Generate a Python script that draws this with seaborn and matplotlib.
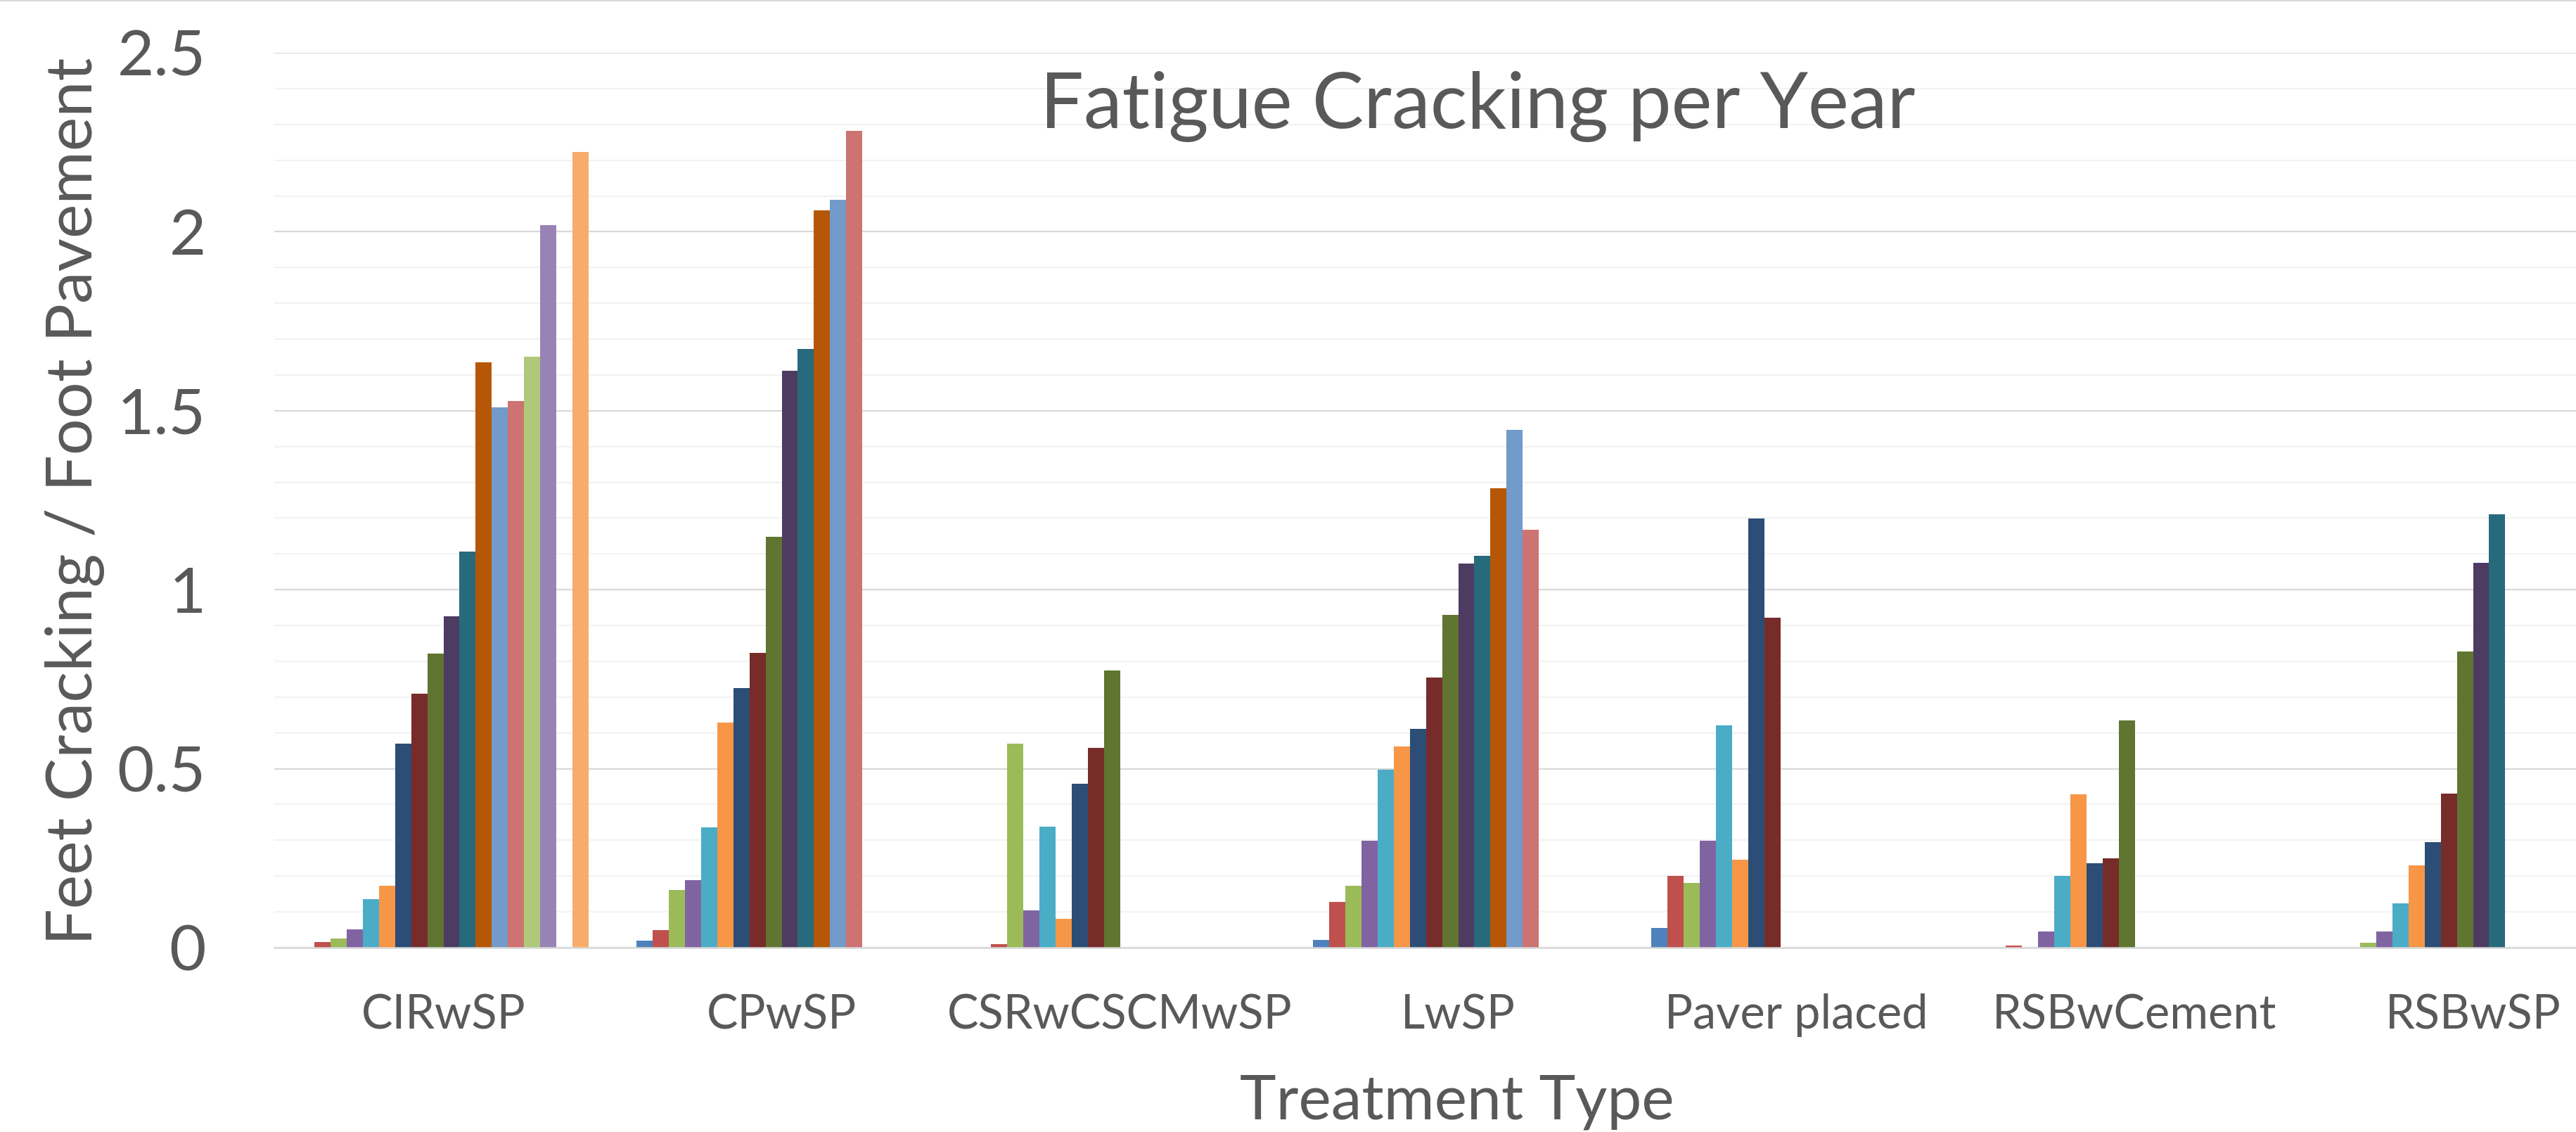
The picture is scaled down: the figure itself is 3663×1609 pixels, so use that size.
import pandas as pd
import numpy as np
import matplotlib
matplotlib.use("Agg")
import matplotlib.pyplot as plt
import seaborn as sns
from matplotlib.ticker import MultipleLocator
from matplotlib.lines import Line2D

# categories on the x axis
treatments = ["CIRwSP", "CPwSP", "CSRwCSCMwSP", "LwSP", "Paver placed", "RSBwCement", "RSBwSP"]

# 18 series per treatment (0 = no bar)
cirwsp = [0, 0.015, 0.025, 0.051, 0.136, 0.172, 0.569, 0.709, 0.821, 0.926, 1.107, 1.635,
          1.510, 1.527, 1.651, 2.019, 0, 2.223]
cpwsp = [0.020, 0.049, 0.161, 0.189, 0.337, 0.628, 0.725, 0.824, 1.148, 1.611, 1.672, 2.060,
         2.090, 2.281, 0, 0, 0, 0]
csrwcscmwsp = [0, 0.009, 0.570, 0.104, 0.338, 0.080, 0.457, 0.558, 0.774, 0, 0, 0,
               0, 0, 0, 0, 0, 0]
lwsp = [0.022, 0.127, 0.172, 0.299, 0.498, 0.563, 0.612, 0.755, 0.930, 1.073, 1.095, 1.283,
        1.447, 1.167, 0, 0, 0, 0]
paver = [0.055, 0.201, 0.180, 0.299, 0.621, 0.246, 1.198, 0.921, 0, 0, 0, 0,
         0, 0, 0, 0, 0, 0]
rsbwcement = [0, 0.005, 0, 0.045, 0.201, 0.428, 0.235, 0.250, 0.635, 0, 0, 0,
              0, 0, 0, 0, 0, 0]
rsbwsp = [0, 0, 0.013, 0.045, 0.124, 0.230, 0.294, 0.431, 0.828, 1.076, 1.210, 0,
          0, 0, 0, 0, 0, 0]

y_ticks = [0, 0.5, 1, 1.5, 2, 2.5]
y_tick_labels = ["0", "0.5", "1", "1.5", "2", "2.5"]

series = [f"Series {i + 1}" for i in range(18)]
colors = ["#4F81BD", "#C0504D", "#9BBB59", "#8064A2", "#4BACC6", "#F79646",
          "#2C4D75", "#772C2A", "#5F7530", "#4D3B62", "#276A7C", "#B65708",
          "#729ACA", "#CD7371", "#AFC97A", "#9983B5", "#6FBDD1", "#F9AB6B"]

all_vals = [cirwsp, cpwsp, csrwcscmwsp, lwsp, paver, rsbwcement, rsbwsp]
rows = []
for t, vals in zip(treatments, all_vals):
    for s, v in zip(series, vals):
        rows.append({"Treatment": t, "Series": s, "Value": v})
df = pd.DataFrame(rows)

sns.set_theme(style="white")
plt.rcParams["font.family"] = ["Lato", "DejaVu Sans"]
text_color = "#595959"

W, H = 3663, 1609
fig = plt.figure(figsize=(W / 100, H / 100), dpi=100)
ax = fig.add_axes([390 / W, (H - 1347) / H, 3367 / W, (1347 - 75) / H])

sns.barplot(data=df, x="Treatment", y="Value", hue="Series", order=treatments,
            hue_order=series, palette=colors, saturation=1, width=0.857,
            linewidth=0, legend=False, ax=ax)

ax.set_xlim(-0.5, 6.5)
ax.set_ylim(0, 2.5)
ax.set_yticks(y_ticks)
ax.set_yticklabels(y_tick_labels)
ax.yaxis.set_minor_locator(MultipleLocator(0.1))
ax.set_axisbelow(True)
ax.grid(which="minor", axis="y", color="#F2F2F2", lw=1.5)
ax.grid(which="major", axis="y", color="#D9D9D9", lw=1.6)
for side in ["top", "right", "left"]:
    ax.spines[side].set_visible(False)
ax.spines["bottom"].set_color("#D9D9D9")
ax.spines["bottom"].set_linewidth(1.8)

ax.tick_params(axis="x", length=0, pad=47, labelsize=48, labelcolor=text_color)
ax.tick_params(axis="y", which="both", length=0, pad=70, labelsize=65, labelcolor=text_color)
ax.set_xlabel("")
ax.set_ylabel("")

fig.text(2101 / W, 1 - 182 / H, "Fatigue Cracking per Year", ha="center", va="baseline",
         fontsize=79, color=text_color)
fig.text(2072 / W, 1 - 1590 / H, "Treatment Type", ha="center", va="baseline",
         fontsize=63, color=text_color)
fig.text(107 / W, 1 - 712 / H, "Feet Cracking / Foot Pavement", ha="center", va="center",
         rotation=90, fontsize=66, color=text_color)

fig.add_artist(Line2D([0, 1], [1 - 1 / H, 1 - 1 / H], transform=fig.transFigure,
                      color="#D9D9D9", lw=1.5))

fig.savefig("out.png", dpi=100, facecolor="white")
